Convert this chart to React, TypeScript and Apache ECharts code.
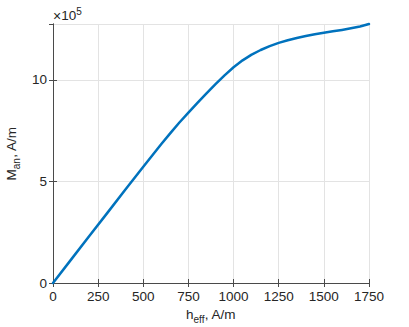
import React, { useEffect, useRef } from "react";
import * as echarts from "echarts";

const hEff = [0, 100, 200, 300, 400, 500, 600, 650, 700, 750, 800, 850, 900, 950, 1000, 1050, 1100, 1150, 1200, 1250, 1300, 1350, 1400, 1450, 1500, 1550, 1600, 1650, 1700, 1750];
const mAn = [0, 115000, 230000, 344000, 459000, 572000, 684000, 738000, 790000, 839000, 887000, 934000, 979000, 1022000, 1062000, 1096000, 1124000, 1147000, 1166000, 1182000, 1195000, 1206000, 1216000, 1225000, 1232000, 1239000, 1246000, 1254000, 1263000, 1275000];
const xTicks = [0, 250, 500, 750, 1000, 1250, 1500, 1750];
const yTicks = [0, 500000, 1000000];
const yScale = 100000;

const TXT = "#262626";
const AX = "#4a4a4a";
const FONT = "Liberation Sans";
const FS = 13.5;

export default function App() {
  const ref = useRef<HTMLDivElement>(null);
  useEffect(() => {
    if (!ref.current) return;
    const chart = echarts.init(ref.current, null, { renderer: "svg" });
    const xMin = xTicks[0];
    const xMax = xTicks[xTicks.length - 1];
    const yMax = mAn[mAn.length - 1];
    chart.setOption({
      animation: false,
      grid: { left: 53, right: 40, top: 24, bottom: 44, containLabel: false, outerBoundsMode: "none" },
      graphic: [
        {
          type: "text",
          left: 53,
          top: 6,
          style: {
            text: "{x|×}{n|10}{s|5}",
            rich: {
              x: { fontSize: 14, fill: TXT, fontFamily: FONT, padding: [3, 0, 0, 0] },
              n: { fontSize: FS, fill: TXT, fontFamily: FONT, padding: [3, 0, 0, 0] },
              s: { fontSize: 10, fill: TXT, fontFamily: FONT, padding: [0, 0, 6, 0] },
            },
          },
        },
      ],
      xAxis: [
        {
          type: "value",
          min: xMin,
          max: xMax,
          interval: 250,
          position: "bottom",
          name: "{m|h}{sub|eff}{m|, A/m}",
          nameLocation: "middle",
          nameGap: 20,
          nameTextStyle: {
            rich: {
              m: { fontSize: FS, color: TXT, fontFamily: FONT },
              sub: { fontSize: 10, color: TXT, fontFamily: FONT, padding: [10, 0, 0, 0] },
            },
          },
          axisLine: { show: true, lineStyle: { color: AX, width: 1 } },
          axisTick: { show: true, inside: true, length: 4, lineStyle: { color: AX } },
          axisLabel: { color: TXT, fontSize: FS, fontFamily: FONT, margin: 6, formatter: (v: number) => String(v) },
          splitLine: { show: true, lineStyle: { color: "#e3e3e3", width: 1 } },
        },
        {
          type: "value",
          min: xMin,
          max: xMax,
          interval: 250,
          position: "top",
          axisLine: { show: true, lineStyle: { color: AX, width: 1 } },
          axisTick: { show: true, inside: true, length: 4, lineStyle: { color: AX } },
          axisLabel: { show: false },
          splitLine: { show: false },
        },
      ],
      yAxis: [
        {
          type: "value",
          min: 0,
          max: yMax,
          interval: yTicks[1] - yTicks[0],
          position: "left",
          name: "{m|M}{sub|an}{m|, A/m}",
          nameLocation: "middle",
          nameRotate: 90,
          nameGap: 28,
          nameTextStyle: {
            rich: {
              m: { fontSize: FS, color: TXT, fontFamily: FONT },
              sub: { fontSize: 10, color: TXT, fontFamily: FONT, padding: [10, 0, 0, 0] },
            },
          },
          axisLine: { show: true, lineStyle: { color: AX, width: 1 } },
          axisTick: { show: true, inside: true, length: 4, lineStyle: { color: AX } },
          axisLabel: {
            color: TXT,
            fontSize: FS,
            fontFamily: FONT,
            margin: 6,
            showMaxLabel: false,
            formatter: (v: number) => (yTicks.includes(v) ? String(v / yScale) : ""),
          },
          splitLine: { show: true, lineStyle: { color: "#e3e3e3", width: 1 } },
        },
        {
          type: "value",
          min: 0,
          max: yMax,
          interval: yTicks[1] - yTicks[0],
          position: "right",
          axisLine: { show: true, lineStyle: { color: AX, width: 1 } },
          axisTick: { show: true, inside: true, length: 4, lineStyle: { color: AX } },
          axisLabel: { show: false },
          splitLine: { show: false },
        },
      ],
      series: [
        {
          type: "line",
          data: hEff.map((h, i) => [h, mAn[i]]),
          showSymbol: false,
          smooth: false,
          lineStyle: { color: "#0072BD", width: 2.5, cap: "round", join: "round" },
          clip: false,
        },
      ],
    });
    return () => chart.dispose();
  }, []);
  return <div ref={ref} style={{ width: 409, height: 327, position: "absolute", left: 0, top: 0 }} />;
}
